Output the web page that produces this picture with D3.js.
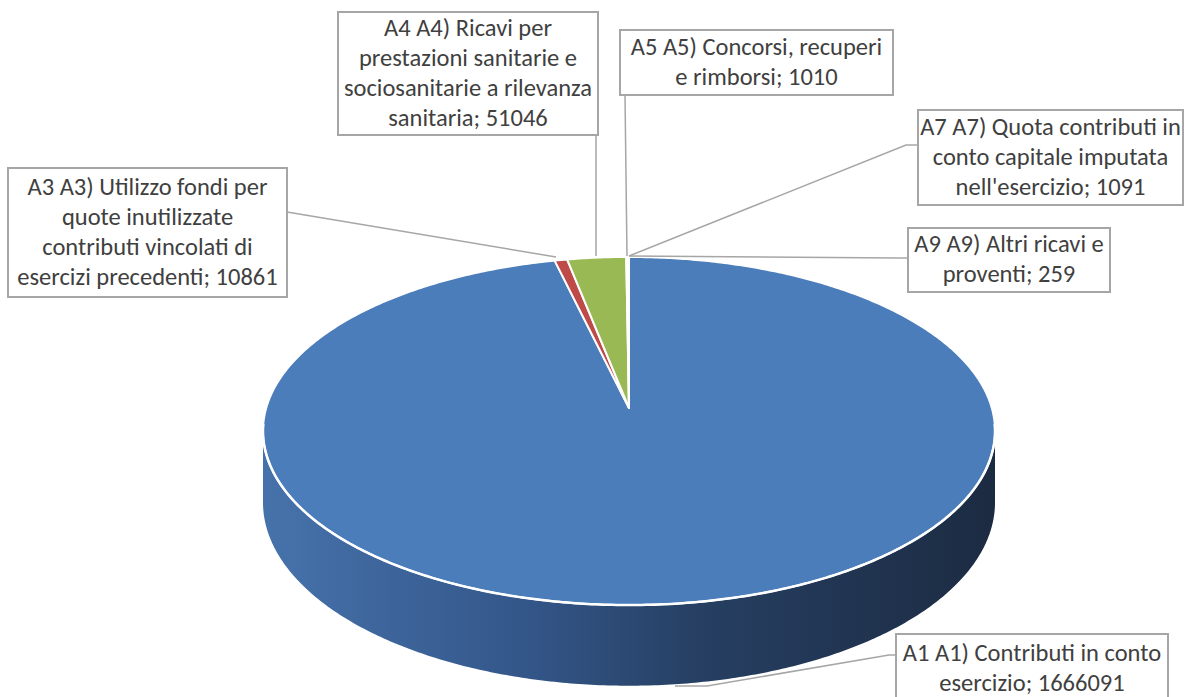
<!DOCTYPE html>
<html><head><meta charset="utf-8">
<script src="https://cdn.jsdelivr.net/npm/d3@7"></script>
<style>html,body{margin:0;padding:0;background:#fff;}svg{display:block;}</style>
</head><body>
<svg id="chart" width="1188" height="697"></svg>
<script>
// ---- data ----
const categories = [
  "A1 A1) Contributi in conto|esercizio",
  "A3 A3) Utilizzo fondi per|quote inutilizzate|contributi vincolati di|esercizi precedenti",
  "A4 A4) Ricavi per|prestazioni sanitarie e|sociosanitarie a rilevanza|sanitaria",
  "A5 A5) Concorsi, recuperi|e rimborsi",
  "A7 A7) Quota contributi in|conto capitale imputata|nell'esercizio",
  "A9 A9) Altri ricavi e|proventi"
];
const values = [1666091, 10861, 51046, 1010, 1091, 259];
const colors = ["#4a7dba", "#be4b48", "#98b954", "#7d60a0", "#46aac5", "#f69240"];

// ---- layout ----
const cx = 629, apexY = 408, A = 362.8, B = 171, k = 0.1322, D = 70;
const boxes = [
  {x: 896, y: 634, w: 272, h: 70, leader: [[897,655],[889,655],[707,686],[675,686]]},
  {x: 8, y: 168, w: 279, h: 129, leader: [[287,212],[556,257]]},
  {x: 338, y: 12, w: 260, h: 123, leader: [[596,135],[596,256]]},
  {x: 620, y: 30, w: 273, h: 65, leader: [[625,95],[627,256]]},
  {x: 918, y: 110, w: 265, h: 95, leader: [[918,145],[906,145],[629,256]]},
  {x: 908, y: 228, w: 202, h: 64, leader: [[908,258],[898,258],[629,256]]}
];

const svg = d3.select("#chart");
const defs = svg.append("defs");
const grad = defs.append("linearGradient").attr("id","sideGrad")
  .attr("gradientUnits","userSpaceOnUse")
  .attr("x1", cx - A).attr("x2", cx + A).attr("y1",0).attr("y2",0);
grad.append("stop").attr("offset","0").attr("stop-color","#4672ab");
grad.append("stop").attr("offset","0.35").attr("stop-color","#34578a");
grad.append("stop").attr("offset","0.6").attr("stop-color","#263f62");
grad.append("stop").attr("offset","1").attr("stop-color","#1c2b42");

const pie = d3.pie().sort(null).value(d => d)(values);
// perspective projection of a rim point at angle t (clockwise from 12 o'clock)
function rim(t, bottom) {
  const u = Math.sin(t), v = Math.cos(t), w = 1 + k * v;
  return [cx + A * u / w, apexY - B * v / w + (bottom ? D / w : 0)];
}
function arcPts(a0, a1, bottom) {
  const n = Math.max(2, Math.ceil(Math.abs(a1 - a0) / 0.01));
  return d3.range(n + 1).map(i => rim(a0 + (a1 - a0) * i / n, bottom));
}
const line = d3.line();

// side (front half, belongs to first slice)
const tA = Math.acos(-k), tB = 2 * Math.PI - Math.acos(-k);
const sidePts = arcPts(tA, tB, false).concat(arcPts(tB, tA, true));
svg.append("path").attr("d", line(sidePts) + "Z").attr("fill","url(#sideGrad)");

// top face slices
svg.append("g").selectAll("path").data(pie).join("path")
  .attr("d", d => line([[cx, apexY]].concat(arcPts(d.startAngle, d.endAngle, false))) + "Z")
  .attr("fill", (d,i) => colors[i])
  .attr("stroke", "#fff").attr("stroke-width", 2).attr("stroke-linejoin","round");

// white rim highlight on front edge
svg.append("path").attr("d", line(arcPts(tA - 0.04, tB + 0.04, false)))
  .attr("fill","none").attr("stroke","#fff").attr("stroke-width",2.5);

// leader lines
svg.append("g").selectAll("path").data(boxes).join("path")
  .attr("d", b => line(b.leader)).attr("fill","none")
  .attr("stroke","#a6a6a6").attr("stroke-width",1.5);

// label boxes
const lg = svg.append("g").selectAll("g").data(pie).join("g");
lg.append("rect")
  .attr("x", (d,i) => boxes[i].x).attr("y", (d,i) => boxes[i].y)
  .attr("width", (d,i) => boxes[i].w).attr("height", (d,i) => boxes[i].h)
  .attr("fill","#fff").attr("stroke","#a6a6a6").attr("stroke-width",2);
lg.each(function(d, i) {
  const b = boxes[i];
  const lines = (categories[i] + "; " + values[i]).split("|");
  const lh = 30;
  const top = b.y + b.h/2 - (lines.length * lh)/2 + lh*0.74;
  const t = d3.select(this).append("text")
    .attr("font-family","Carlito, 'Liberation Sans', Arial, sans-serif")
    .attr("font-size", 24.5).attr("fill","#404040").attr("text-anchor","middle");
  lines.forEach((s, k2) => {
    t.append("tspan").attr("x", b.x + b.w/2).attr("y", top + k2*lh).text(s);
  });
});
</script>
</body></html>
